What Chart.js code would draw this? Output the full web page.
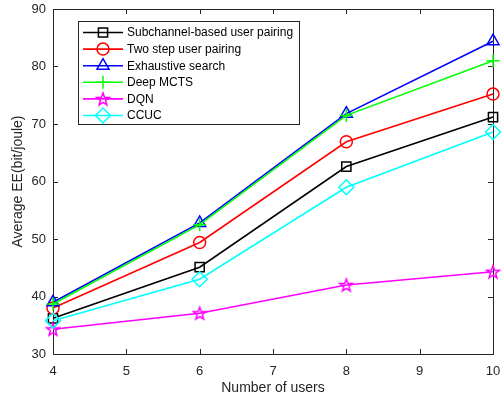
<!DOCTYPE html>
<html>
<head>
<meta charset="utf-8">
<script src="https://cdn.jsdelivr.net/npm/chart.js@4.4.1/dist/chart.umd.min.js"></script>
<style>
  html, body { margin: 0; padding: 0; background: #fff; }
  #wrap { width: 503px; height: 401px; }
</style>
</head>
<body>
<div id="wrap"><canvas id="eeChart" width="503" height="401"></canvas></div>
<script>
// Average EE vs number of users
const users = [4, 6, 8, 10];
const xTicks = [4, 5, 6, 7, 8, 9, 10];
const yTicks = [30, 40, 50, 60, 70, 80, 90];

const subchannelEE = [36.2, 45.1, 62.6, 71.2];
const twoStepEE = [38.0, 49.4, 66.9, 75.2];
const exhaustiveEE = [39.0, 52.8, 71.8, 84.4];
const deepMctsEE = [38.7, 52.5, 71.5, 81.0];
const dqnEE = [34.3, 37.1, 42.0, 44.3];
const ccucEE = [35.8, 43.0, 59.0, 68.6];

const seriesNames = ['Subchannel-based user pairing', 'Two step user pairing', 'Exhaustive search',
    'Deep MCTS', 'DQN', 'CCUC'];

const axisColor = '#262626';
const font = '"Liberation Sans", Arial, sans-serif';

// pentagram marker (matlab 'p')
function makeStar(color) {
    const c = document.createElement('canvas');
    c.width = 16; c.height = 16;
    const g = c.getContext('2d');
    g.strokeStyle = color;
    g.lineWidth = 1.5;
    g.beginPath();
    for (let i = 0; i < 10; i++) {
        const r = i % 2 === 0 ? 6.6 : 2.7;
        const a = -Math.PI / 2 + i * Math.PI / 5;
        const px = 8 + r * Math.cos(a), py = 8.6 + r * Math.sin(a);
        if (i === 0) g.moveTo(px, py); else g.lineTo(px, py);
    }
    g.closePath();
    g.stroke();
    return c;
}
const starImg = makeStar('#ff00ff');

function series(label, values, color, style, radius, idx) {
    return {
        label: label,
        data: users.map((u, i) => ({ x: u, y: values[i] })),
        borderColor: color,
        backgroundColor: 'rgba(0,0,0,0)',
        borderWidth: 1.6,
        pointStyle: style,
        pointRadius: radius,
        pointBorderWidth: 1.5,
        pointBorderColor: color,
        pointBackgroundColor: 'rgba(0,0,0,0)',
        tension: 0,
        clip: false,
        order: 10 - idx
    };
}

const datasets = [
    series(seriesNames[0], subchannelEE, '#000000', 'rect', 6.5, 0),
    series(seriesNames[1], twoStepEE, '#ff0000', 'circle', 6, 1),
    series(seriesNames[2], exhaustiveEE, '#0000ff', 'triangle', 7, 2),
    series(seriesNames[3], deepMctsEE, '#00ff00', 'cross', 6.5, 3),
    series(seriesNames[4], dqnEE, '#ff00ff', starImg, 7, 4),
    series(seriesNames[5], ccucEE, '#00ffff', 'rectRot', 7.5, 5)
];

// box around plot, inward ticks on all four sides, and legend inside
const frame = {
    id: 'frame',
    beforeDatasetsDraw(chart) {
        const { ctx, chartArea: a, scales } = chart;
        ctx.save();
        ctx.strokeStyle = axisColor;
        ctx.lineWidth = 1;
        ctx.strokeRect(Math.round(a.left) + 0.5, Math.round(a.top) + 0.5,
            Math.round(a.right - a.left), Math.round(a.bottom - a.top));
        ctx.beginPath();
        xTicks.forEach(v => {
            const px = Math.round(scales.x.getPixelForValue(v)) + 0.5;
            ctx.moveTo(px, a.bottom); ctx.lineTo(px, a.bottom - 5);
            ctx.moveTo(px, a.top); ctx.lineTo(px, a.top + 5);
        });
        yTicks.forEach(v => {
            const py = Math.round(scales.y.getPixelForValue(v)) + 0.5;
            ctx.moveTo(a.left, py); ctx.lineTo(a.left + 5, py);
            ctx.moveTo(a.right, py); ctx.lineTo(a.right - 5, py);
        });
        ctx.stroke();
        ctx.restore();
    },
    afterDatasetsDraw(chart) {
        const { ctx } = chart;
        ctx.save();
        // legend box
        const lx = 78, ly = 21, lw = 221, lh = 103, rowH = 16.6;
        ctx.fillStyle = '#fff';
        ctx.fillRect(lx, ly, lw, lh);
        ctx.strokeStyle = axisColor;
        ctx.lineWidth = 1;
        ctx.strokeRect(lx + 0.5, ly + 0.5, lw, lh);
        ctx.font = '12px ' + font;
        ctx.textBaseline = 'middle';
        datasets.forEach((ds, i) => {
            const y = ly + 11.5 + i * rowH;
            ctx.strokeStyle = ds.borderColor;
            ctx.lineWidth = ds.borderWidth;
            ctx.beginPath();
            ctx.moveTo(83, y); ctx.lineTo(123, y);
            ctx.stroke();
            ctx.lineWidth = ds.pointBorderWidth;
            ctx.fillStyle = 'rgba(0,0,0,0)';
            Chart.helpers.drawPoint(ctx, {
                pointStyle: ds.pointStyle, radius: ds.pointRadius, rotation: 0, borderWidth: ds.pointBorderWidth
            }, 103, y);
            ctx.fillStyle = '#000';
            ctx.fillText(ds.label, 127, y + 0.5);
        });
        ctx.restore();
    }
};

new Chart(document.getElementById('eeChart'), {
    type: 'line',
    data: { datasets: datasets },
    options: {
        responsive: false,
        animation: false,
        layout: { padding: { left: 0, right: 10, top: 6, bottom: 0 } },
        plugins: { legend: { display: false }, tooltip: { enabled: false } },
        scales: {
            x: {
                type: 'linear',
                min: 4, max: 10,
                afterBuildTicks: s => { s.ticks = xTicks.map(v => ({ value: v })); },
                afterFit: s => { s.height = 47; s.paddingLeft = 0; s.paddingRight = 0; },
                grid: { display: false },
                border: { display: false },
                ticks: { color: axisColor, font: { family: font, size: 13 }, padding: 2, maxRotation: 0 },
                title: { display: true, text: 'Number of users', color: axisColor, font: { family: font, size: 14 }, padding: { top: 0 } }
            },
            y: {
                min: 30, max: 90,
                afterBuildTicks: s => { s.ticks = yTicks.map(v => ({ value: v })); },
                afterFit: s => { s.width = 53; s.paddingTop = 0; s.paddingBottom = 0; },
                grid: { display: false },
                border: { display: false },
                ticks: { color: axisColor, font: { family: font, size: 13 }, padding: -1 },
                title: { display: true, text: 'Average EE(bit/joule)', color: axisColor, font: { family: font, size: 14 }, padding: { top: 10, bottom: 0 } }
            }
        }
    },
    plugins: [frame]
});
</script>
</body>
</html>
